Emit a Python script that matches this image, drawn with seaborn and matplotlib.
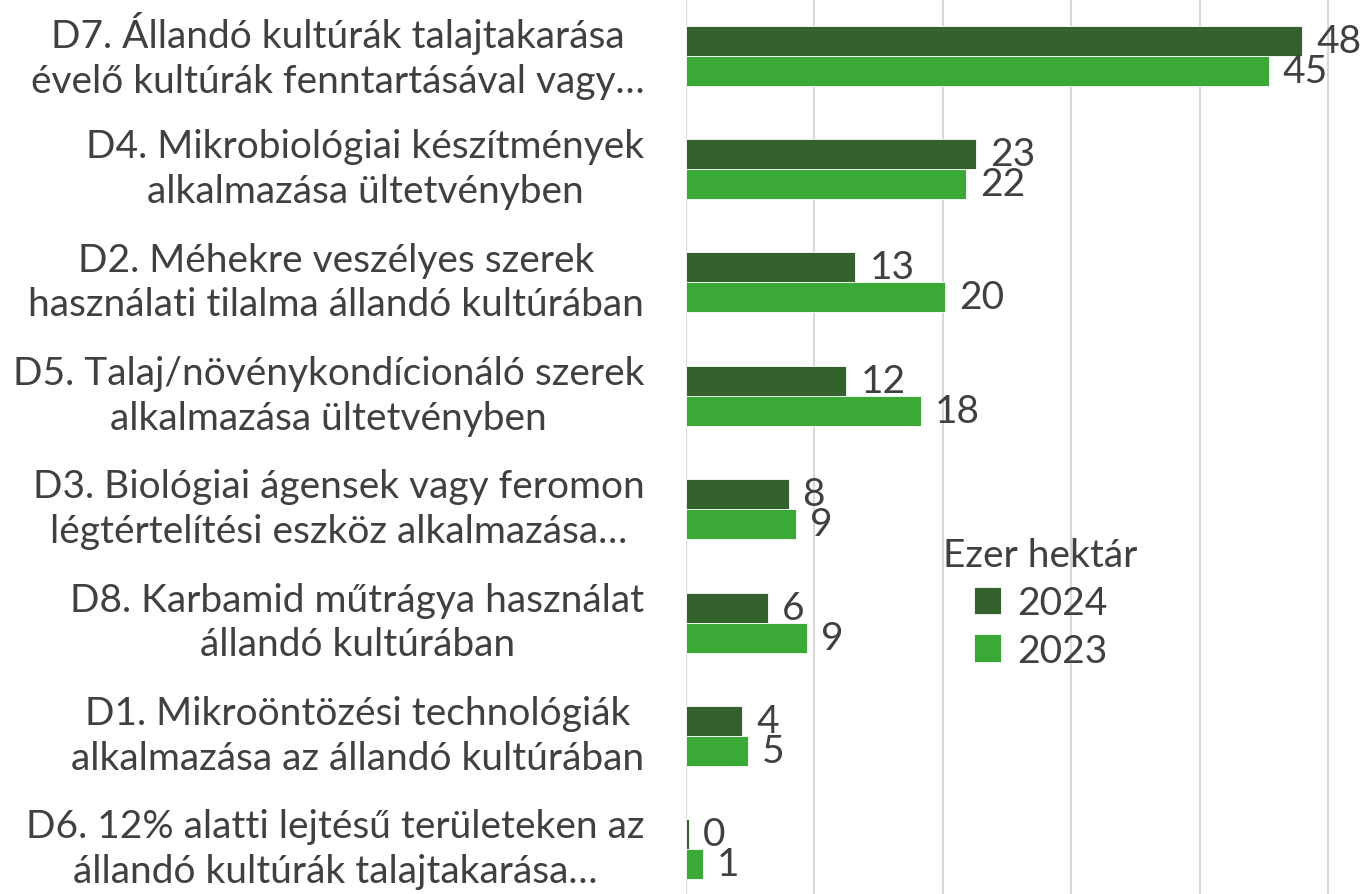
import pandas as pd
import matplotlib.pyplot as plt
import matplotlib.transforms as mtransforms
import seaborn as sns

# adatok
kategoriak = [
    "D7. Állandó kultúrák talajtakarása\névelő kultúrák fenntartásával vagy…",
    "D4. Mikrobiológiai készítmények\nalkalmazása ültetvényben",
    "D2. Méhekre veszélyes szerek\nhasználati tilalma állandó kultúrában",
    "D5. Talaj/növénykondícionáló szerek\nalkalmazása ültetvényben",
    "D3. Biológiai ágensek vagy feromon\nlégtértelítési eszköz alkalmazása…",
    "D8. Karbamid műtrágya használat\nállandó kultúrában",
    "D1. Mikroöntözési technológiák\nalkalmazása az állandó kultúrában",
    "D6. 12% alatti lejtésű területeken az\nállandó kultúrák talajtakarása…",
]
ertek_2024 = [48.0, 22.6, 13.2, 12.5, 8.0, 6.4, 4.4, 0.2]
ertek_2023 = [45.4, 21.8, 20.2, 18.3, 8.6, 9.4, 4.8, 1.3]
evek = ["2024", "2023"]
szinek = ["#34622d", "#3aa935"]

df = pd.DataFrame({
    "kat": kategoriak * 2,
    "ev": ["2024"] * len(kategoriak) + ["2023"] * len(kategoriak),
    "ertek": ertek_2024 + ertek_2023,
})

sns.set_style("white")
plt.rcParams["font.family"] = ["Lato", "DejaVu Sans"]
szoveg = "#404040"
meret = 28

fig = plt.figure(figsize=(13.6, 8.95), dpi=100)
ax = fig.add_axes([686 / 1360, -12 / 895, 674 / 1360, 907 / 895])

sns.barplot(data=df, y="kat", x="ertek", hue="ev", hue_order=evek,
            palette=szinek, saturation=1, orient="h", width=0.53, ax=ax,
            edgecolor="#ffffff", linewidth=0.6)

for cont in ax.containers:
    ax.bar_label(cont, fmt="%.0f", padding=10, fontsize=meret, color=szoveg)

ax.set_xlim(0, 52.5)
ax.set_xticks([0, 10, 20, 30, 40, 50])
ax.set_xticklabels([])
ax.tick_params(axis="x", length=0)
ax.set_yticks(range(len(kategoriak)))
ax.set_yticklabels(kategoriak, fontsize=meret, color=szoveg,
                   multialignment="center", linespacing=1.3)
ax.tick_params(axis="y", length=0, pad=30)
# kategória címkék kicsit feljebb
eltolas = mtransforms.ScaledTranslation(0, 6 / 72, fig.dpi_scale_trans)
for lab in ax.get_yticklabels():
    lab.set_transform(lab.get_transform() + eltolas)
ax.grid(axis="x", color="#d9d9d9", linewidth=1.5)
ax.set_axisbelow(True)
for s in ax.spines.values():
    s.set_visible(False)
ax.set_xlabel("")
ax.set_ylabel("")

leg = ax.legend(title="Ezer hektár", loc="upper left", bbox_to_anchor=(0.33, 0.445),
                frameon=False, fontsize=meret, title_fontsize=meret,
                handlelength=0.7, handleheight=0.7, handletextpad=0.4, labelspacing=0.3)
for t in leg.get_texts():
    t.set_color(szoveg)
leg.get_title().set_color(szoveg)

plt.savefig("out.png", dpi=100)
